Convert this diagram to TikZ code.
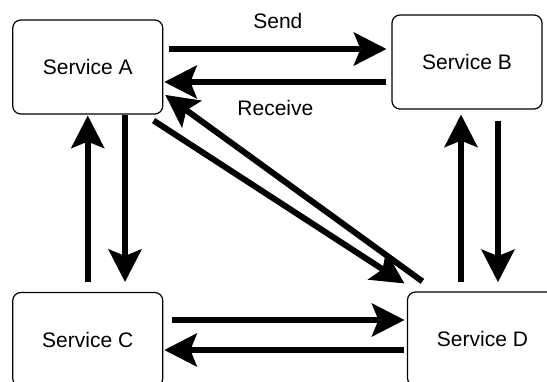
\documentclass[tikz,border=0pt]{standalone}
\usepackage{fontspec}
\setmainfont{Liberation Sans}
\usepackage{tikz}
\usetikzlibrary{arrows.meta, positioning}

\begin{document}
\begin{tikzpicture}[x=1pt, y=-1pt,
    font=\fontsize{21}{25}\selectfont,
    service/.style={draw, rounded corners=8pt, line width=1.2pt,
        minimum width=150pt, minimum height=94pt, text centered},
    flow/.style={line width=6pt,
        -{Stealth[length=33pt, width=34pt, inset=7pt, line width=0pt]}}]

\useasboundingbox (0,0) rectangle (547,382);

% Services
\node[service] (A) at (87.75,67) {Service A};

\node[service] (B) at (467,62) {Service B};

\node[service] (C) at (87.75,339.5) {Service C};

\node[service] (D) at (482.5,339) {Service D};

% Arrows
\draw [flow] ([xshift=6pt,yshift=18pt]A.east) -- node[midway, yshift=28pt]{Send} ([xshift=-5pt,yshift=13pt]B.west);
\draw [flow] ([xshift=-5pt,yshift=-20pt]B.west) -- node[midway, yshift=-26pt]{Receive} ([xshift=1pt,yshift=-15pt]A.east);
\draw [flow] ([xshift=9pt,yshift=19.5pt]C.east) -- ([xshift=-2.5pt,yshift=19pt]D.west);
\draw [flow] ([xshift=-2.5pt,yshift=-11pt]D.west) -- ([xshift=1pt,yshift=-10.5pt]C.east);
\draw [flow] ([yshift=10pt]C.north) -- ([yshift=-1pt]A.south);
\draw [flow] ([xshift=37.25pt]A.south) -- ([xshift=37.25pt,yshift=10pt]C.north);
\draw [flow] ([xshift=-21.5pt,yshift=9.3pt]D.north) -- ([xshift=-6pt,yshift=-5pt]B.south);
\draw [flow] ([xshift=31pt,yshift=-11pt]B.south) -- ([xshift=15.5pt,yshift=9.3pt]D.north);
\draw [flow] ([xshift=-9.75pt,yshift=-6pt]A.south east) -- ([xshift=-2.5pt,yshift=8pt]D.north west);
\draw [flow] ([xshift=15.5pt,yshift=10pt]D.north west) -- ([xshift=2pt,yshift=-28pt]A.east);

\end{tikzpicture}
\end{document}
